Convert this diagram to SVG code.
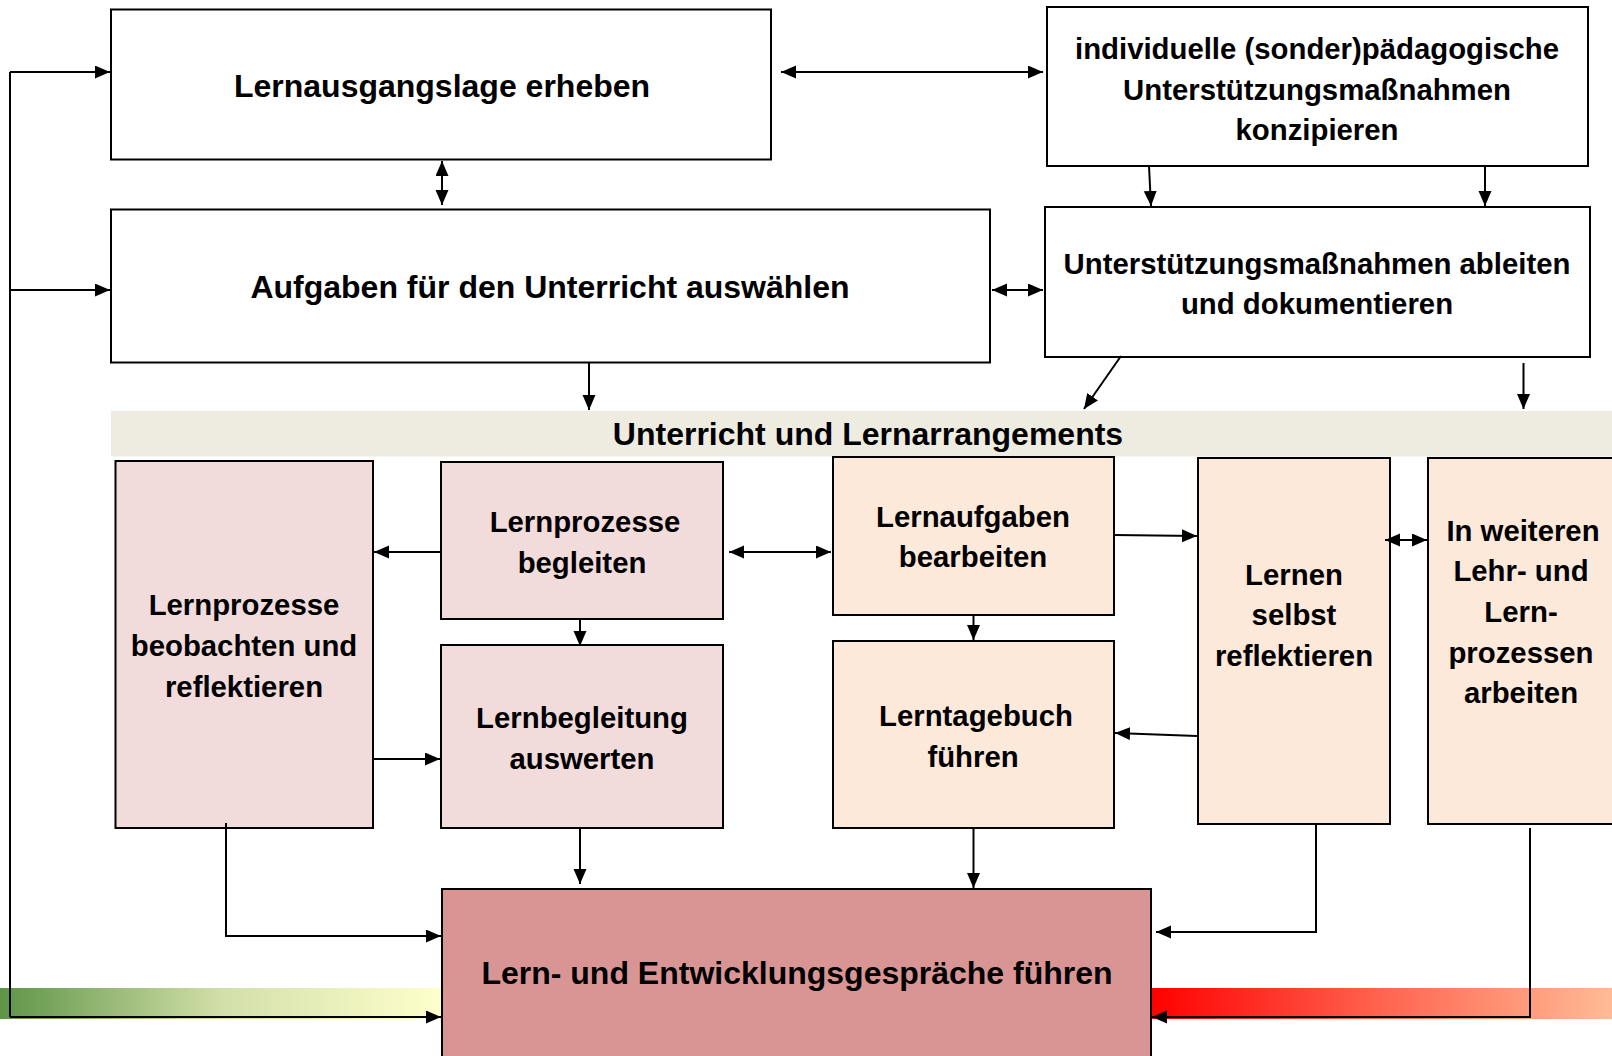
<svg xmlns="http://www.w3.org/2000/svg" width="1612" height="1056" viewBox="0 0 1612 1056">
<defs>
<marker id="ah" markerUnits="userSpaceOnUse" markerWidth="16" markerHeight="14" refX="15" refY="6.5" orient="auto-start-reverse"><path d="M0,0 L15,6.5 L0,13 z" fill="#000"/></marker>
<linearGradient id="gGreen" x1="0" y1="0" x2="1" y2="0"><stop offset="0" stop-color="#5E9447"/><stop offset="0.5" stop-color="#D2DFA8"/><stop offset="1" stop-color="#FFFFCC"/></linearGradient>
<linearGradient id="gRed" x1="0" y1="0" x2="1" y2="0"><stop offset="0" stop-color="#FF0000"/><stop offset="0.5" stop-color="#FF6450"/><stop offset="1" stop-color="#FFBB95"/></linearGradient>
</defs>
<style>
.box{stroke:#000;stroke-width:2}
.w{fill:#FFFFFF}
.pink{fill:#F2DCDB}
.peach{fill:#FDE9D9}
.dark{fill:#D99594}
.t{font-family:"Liberation Sans",Arial,sans-serif;font-weight:bold;font-size:32px;fill:#000;text-anchor:middle;dominant-baseline:central}
.s{font-size:29.33px}
.c{fill:none;stroke:#000;stroke-width:2}
.a{fill:none;stroke:#000;stroke-width:2;marker-end:url(#ah)}
.d{fill:none;stroke:#000;stroke-width:2;marker-start:url(#ah);marker-end:url(#ah)}
</style>
<rect width="1612" height="1056" fill="#FFFFFF"/>
<rect x="0" y="988" width="442" height="31" fill="url(#gGreen)"/>
<rect x="1151" y="988" width="461" height="31" fill="url(#gRed)"/>
<g id="band"><rect x="111" y="411" width="1501" height="45.5" fill="#EEECE1"/><text class="t" x="868" y="434">Unterricht und Lernarrangements</text></g>
<g id="nodeA"><rect class="box w" x="111" y="9.5" width="660" height="150"/><text class="t" x="442" y="86">Lernausgangslage erheben</text></g>
<g id="nodeB"><rect class="box w" x="111" y="209.5" width="879" height="153"/><text class="t" x="550" y="287">Aufgaben für den Unterricht auswählen</text></g>
<g id="nodeC"><rect class="box w" x="1047" y="7" width="541" height="159"/><text class="t s" x="1317" y="48">individuelle (sonder)pädagogische</text><text class="t s" x="1317" y="89">Unterstützungsmaßnahmen</text><text class="t s" x="1317" y="129">konzipieren</text></g>
<g id="nodeD"><rect class="box w" x="1045" y="207" width="545" height="150"/><text class="t s" x="1317" y="263">Unterstützungsmaßnahmen ableiten</text><text class="t s" x="1317" y="303">und dokumentieren</text></g>
<g id="nodeE"><rect class="box pink" x="115.5" y="461" width="257.5" height="367"/><text class="t s" x="244" y="604">Lernprozesse</text><text class="t s" x="244" y="645">beobachten und</text><text class="t s" x="244" y="686">reflektieren</text></g>
<g id="nodeF"><rect class="box pink" x="441" y="462" width="282" height="157"/><text class="t s" x="585" y="521">Lernprozesse</text><text class="t s" x="582" y="562">begleiten</text></g>
<g id="nodeG"><rect class="box pink" x="441" y="645" width="282" height="183"/><text class="t s" x="582" y="717">Lernbegleitung</text><text class="t s" x="582" y="758">auswerten</text></g>
<g id="nodeH"><rect class="box peach" x="833" y="457" width="281" height="158"/><text class="t s" x="973" y="516">Lernaufgaben</text><text class="t s" x="973" y="556">bearbeiten</text></g>
<g id="nodeI"><rect class="box peach" x="833" y="641" width="281" height="187"/><text class="t s" x="976" y="715">Lerntagebuch</text><text class="t s" x="973" y="756">führen</text></g>
<g id="nodeJ"><rect class="box peach" x="1198" y="458" width="192" height="366"/><text class="t s" x="1294" y="574">Lernen</text><text class="t s" x="1294" y="614">selbst</text><text class="t s" x="1294" y="655">reflektieren</text></g>
<g id="nodeK"><rect class="box peach" x="1428" y="458" width="200" height="366"/><text class="t s" x="1523" y="530">In weiteren</text><text class="t s" x="1521" y="570">Lehr- und</text><text class="t s" x="1521" y="611">Lern-</text><text class="t s" x="1521" y="652">prozessen</text><text class="t s" x="1521" y="692">arbeiten</text></g>
<g id="nodeL"><rect class="box dark" x="442" y="889" width="709" height="200"/><text class="t" x="797" y="973">Lern- und Entwicklungsgespräche führen</text></g>
<g id="connectors">
<path class="d" d="M781,72 H1043"/>
<path class="c" d="M10,72 V1017"/>
<path class="a" d="M10,72 H110"/>
<path class="a" d="M10,290 H110"/>
<path class="a" d="M10,1017 H441"/>
<path class="d" d="M442,161 V205"/>
<path class="a" d="M589,362 V410"/>
<path class="a" d="M1149,166 L1151,206"/>
<path class="a" d="M1485,166 V206"/>
<path class="d" d="M992,290 H1043"/>
<path class="a" d="M1121,356 L1084,409"/>
<path class="a" d="M1523.5,363 V409"/>
<path class="a" d="M441,552 H374"/>
<path class="d" d="M729,552 H831"/>
<path class="a" d="M580,619 V646"/>
<path class="a" d="M373,759 H440"/>
<path class="a" d="M226,823 V936 H441"/>
<path class="a" d="M580,828 V884"/>
<path class="a" d="M973.5,615 V640"/>
<path class="a" d="M1114,535 L1197,536"/>
<path class="d" d="M1385,540 H1427"/>
<path class="a" d="M1197,736 L1115,733"/>
<path class="a" d="M973.5,828 V888"/>
<path class="a" d="M1316,824 V932 H1156"/>
<path class="a" d="M1530,828 V1017 H1152"/>
</g>
</svg>
